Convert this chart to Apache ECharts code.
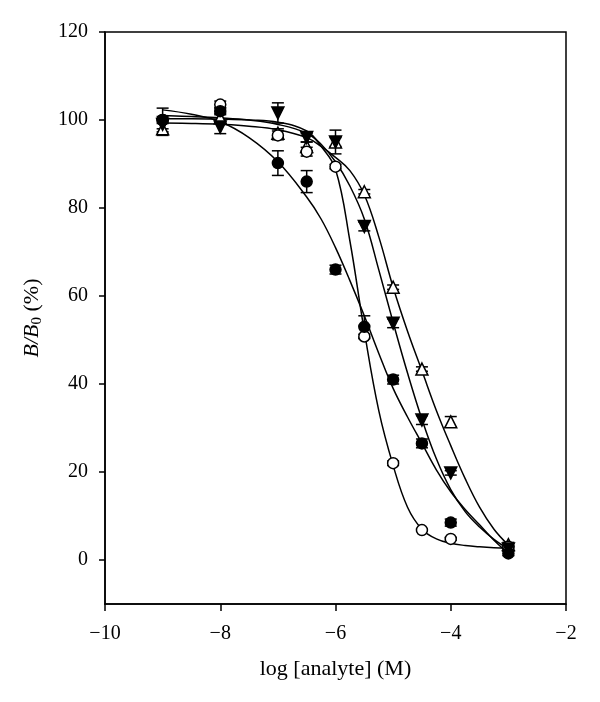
<!DOCTYPE html>
<html><head><meta charset="utf-8">
<script src="https://cdn.jsdelivr.net/npm/echarts@6/dist/echarts.min.js"></script>
<style>html,body{margin:0;padding:0;background:#fff}#c{width:600px;height:702px}</style>
</head><body><div id="c"></div>
<script>
// Measured points
const xs = [-9, -8, -7, -6.5, -6, -5.5, -5, -4.5, -4, -3];
const filledCircle = [100, 102, 90.2, 86, 66, 53, 41, 26.5, 8.5, 1.5];
const filledCircleErr = [2.7, 0.8, 2.8, 2.5, 1, 2.5, 1, 1, 0.8, 0.5];
const openCircle = [100, 103.5, 96.5, 92.8, 89.4, 50.8, 22, 6.8, 4.8, 3];
const openCircleErr = [0.8, 0.8, 1, 1, 0.5, 0.5, 0.5, 0.3, 0.3, 0.3];
const filledTri = [99, 98.4, 101.6, 96, 95, 75.8, 53.8, 31.8, 19.8, 2.5];
const filledTriErr = [1, 1.5, 2.3, 1, 1, 1, 1, 1, 0.5, 0.5];
const openTri = [98, 100.5, 97, 94, 95, 83.7, 62, 43.4, 31.4, 3.5];
const openTriErr = [1.5, 1, 1, 1, 2.7, 0.5, 0.5, 0.5, 1.2, 0.5];

// Fitted curves
const fitX = [-9, -8.5, -8, -7.5, -7, -6.5, -6.25, -6, -5.75, -5.5, -5.25, -5, -4.75, -4.5, -4.25, -4, -3.75, -3.5, -3.25, -3];
const fitFilledCircle = [102.3, 101.3, 99.6, 96, 90.5, 82.5, 77.5, 71, 63.5, 55.5, 47, 39, 32.5, 26.5, 20.5, 15.5, 11.5, 8, 4.5, 1.5];
const fitOpenCircle = [100.3, 100.3, 100.2, 100, 99.5, 97.5, 94, 88.8, 72.5, 52, 34, 21.5, 12, 7, 4.8, 3.8, 3.3, 3, 2.8, 2.7];
const fitFilledTri = [101, 100.8, 100.5, 100, 99, 97, 94.5, 90.5, 85, 77.5, 66, 54, 42.5, 32, 23, 16, 11, 7.5, 4.7, 2.5];
const fitOpenTri = [99.3, 99.2, 99, 98.6, 97.8, 96, 94, 91.5, 88.5, 83, 73.5, 62, 52, 43, 34, 26, 18.5, 12, 7, 3.4];

const yTicks = [0, 20, 40, 60, 80, 100, 120];

const pairs = (xa, ya) => xa.map((x, i) => [x, ya[i]]);
const errData = (ya, ea) => xs.map((x, i) => [x, ya[i] - ea[i], ya[i] + ea[i]]);

function errSeries(ya, ea) {
  return {
    type: 'custom', z: 3, silent: true,
    data: errData(ya, ea),
    renderItem: function (params, api) {
      const x = api.value(0);
      const lo = api.coord([x, api.value(1)]);
      const hi = api.coord([x, api.value(2)]);
      const w = 6;
      const st = { stroke: '#000', lineWidth: 1.5 };
      return { type: 'group', children: [
        { type: 'line', shape: { x1: lo[0], y1: lo[1], x2: hi[0], y2: hi[1] }, style: st },
        { type: 'line', shape: { x1: lo[0] - w, y1: lo[1], x2: lo[0] + w, y2: lo[1] }, style: st },
        { type: 'line', shape: { x1: hi[0] - w, y1: hi[1], x2: hi[0] + w, y2: hi[1] }, style: st }
      ]};
    }
  };
}
function fitSeries(ya) {
  return { type: 'line', data: pairs(fitX, ya), smooth: 0.4, showSymbol: false, silent: true, z: 2,
    lineStyle: { color: '#000', width: 1.5 } };
}
function ptSeries(ya, symbol, filled, rot, size) {
  return { type: 'scatter', data: pairs(xs, ya), symbol: symbol, symbolSize: size, symbolRotate: rot, z: 5,
    silent: true,
    itemStyle: { color: filled ? '#000' : '#fff', borderColor: '#000', borderWidth: 1.5, opacity: 1 } };
}

const chart = echarts.init(document.getElementById('c'), null, { renderer: 'canvas' });
const font = '"Liberation Serif", "DejaVu Serif", serif';
chart.setOption({
  animation: false,
  backgroundColor: '#fff',
  textStyle: { fontFamily: font },
  grid: { left: 105, right: 34, top: 32, bottom: 98, show: true, borderColor: '#000', borderWidth: 1.5, backgroundColor: 'transparent' },
  xAxis: {
    type: 'value', min: -10, max: -2, interval: 2,
    axisLine: { onZero: false, lineStyle: { color: '#000', width: 1.5 } },
    axisTick: { inside: false, length: 7, lineStyle: { color: '#000', width: 1.5 } },
    axisLabel: { color: '#000', fontSize: 20, fontFamily: font, margin: 20,
      formatter: v => (v < 0 ? '\u2212' + Math.abs(v) : '' + v) },
    splitLine: { show: false },
    name: 'log [analyte] (M)', nameLocation: 'middle', nameGap: 54,
    nameTextStyle: { color: '#000', fontSize: 22, fontFamily: font }
  },
  yAxis: {
    type: 'value', min: -10, max: 120,
    axisLine: { onZero: false, lineStyle: { color: '#000', width: 1.5 } },
    axisTick: { inside: false, length: 6, customValues: yTicks, lineStyle: { color: '#000', width: 1.5 } },
    axisLabel: { color: '#000', fontSize: 20, fontFamily: font, margin: 17, customValues: yTicks },
    splitLine: { show: false },
    name: '{i|B/B}{s|0}{n| (%)}', nameLocation: 'middle', nameGap: 60,
    nameTextStyle: { color: '#000', fontSize: 22, fontFamily: font,
      rich: {
        i: { fontStyle: 'italic', fontSize: 22, fontFamily: font, color: '#000' },
        s: { fontSize: 15, fontFamily: font, color: '#000', verticalAlign: 'bottom', padding: [10, 0, 0, 0] },
        n: { fontSize: 22, fontFamily: font, color: '#000' }
      } }
  },
  series: [
    fitSeries(fitFilledCircle), fitSeries(fitOpenCircle), fitSeries(fitFilledTri), fitSeries(fitOpenTri),
    errSeries(filledCircle, filledCircleErr), errSeries(openCircle, openCircleErr),
    errSeries(filledTri, filledTriErr), errSeries(openTri, openTriErr),
    ptSeries(openTri, 'triangle', false, 0, 12),
    ptSeries(openCircle, 'circle', false, 0, 11),
    ptSeries(filledTri, 'triangle', true, 180, 12),
    ptSeries(filledCircle, 'circle', true, 0, 11)
  ]
});
</script></body></html>
